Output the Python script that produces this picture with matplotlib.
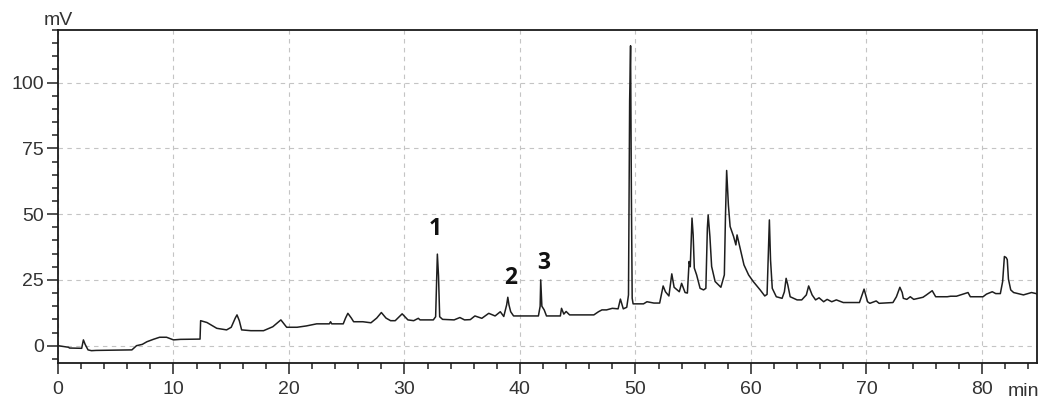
import matplotlib
matplotlib.use("Agg")
import matplotlib.pyplot as plt
from matplotlib.ticker import MultipleLocator

# Chromatogram trace (time in min, signal in mV)
time_min = [
    0.0, 0.9, 1.0, 2.05, 2.2, 2.35, 2.6, 2.9, 3.3, 6.4, 6.8, 7.3, 7.7, 8.25, 8.8, 9.4, 9.7,
    10.0, 10.6, 12.3, 12.35, 12.9, 13.75, 14.6, 15.0, 15.35, 15.5, 15.7, 15.9, 16.7, 17.8,
    18.6, 19.3, 19.8, 20.7, 21.5, 22.4, 23.3, 23.5, 23.6, 23.7, 24.7, 24.9, 25.1, 25.4,
    25.6, 26.4, 27.1, 27.6, 28.0, 28.4, 28.8, 29.2, 29.8, 30.3, 30.8, 31.2, 31.35, 32.5,
    32.7, 32.8, 32.85, 32.95, 33.05, 33.3, 34.3, 34.8, 35.2, 35.7, 36.1, 36.7, 37.3, 37.85,
    38.3, 38.6, 38.85, 38.95, 39.05, 39.2, 39.45, 41.6, 41.75, 41.8, 41.9, 42.1, 42.3,
    43.5, 43.6, 43.8, 44.0, 44.3, 46.4, 46.8, 47.1, 47.5, 48.0, 48.5, 48.7, 48.95, 49.25,
    49.4, 49.5, 49.58, 49.65, 49.72, 49.8, 50.7, 51.0, 51.6, 52.1, 52.4, 52.6, 52.9,
    53.15, 53.35, 53.8, 54.0, 54.3, 54.5, 54.65, 54.75, 54.9, 55.0, 55.1, 55.3, 55.6,
    55.9, 56.1, 56.23, 56.3, 56.45, 56.6, 56.9, 57.2, 57.4, 57.7, 57.8, 57.9, 58.05,
    58.2, 58.5, 58.7, 58.8, 59.1, 59.4, 59.8, 60.2, 60.8, 61.2, 61.4, 61.6, 61.7, 61.85,
    62.2, 62.7, 62.9, 63.05, 63.2, 63.4, 64.0, 64.4, 64.8, 65.0, 65.3, 65.6, 65.9, 66.3,
    66.6, 67.0, 67.4, 68.0, 69.4, 69.8, 70.1, 70.3, 70.85, 71.1, 72.3, 72.6, 72.9, 73.1,
    73.2, 73.5, 73.8, 74.1, 74.9, 75.2, 75.7, 76.0, 77.0, 77.3, 77.8, 78.8, 79.0, 80.1,
    80.4, 80.9, 81.2, 81.6, 81.8, 81.95, 82.1, 82.2, 82.3, 82.5, 82.75, 83.6, 84.3, 84.7,
    84.85,
]
signal_mv = [
    0.0, -0.6, -0.9, -1.0, 2.2, 0.5, -1.6, -1.9, -1.8, -1.6, 0.0, 0.5, 1.5, 2.4, 3.2, 3.2, 2.7,
    2.2, 2.4, 2.5, 9.5, 8.8, 6.6, 6.0, 7.0, 10.5, 11.7, 9.5, 6.0, 5.7, 5.7,
    7.2, 9.8, 7.0, 7.0, 7.5, 8.3, 8.3, 8.3, 9.1, 8.3, 8.3, 10.5, 12.3, 10.5,
    9.1, 9.1, 8.7, 10.5, 12.6, 10.5, 9.5, 9.5, 12.1, 9.8, 9.5, 10.4, 9.8, 9.8,
    11.0, 26.5, 34.8, 26.5, 11.0, 10.0, 9.8, 10.7, 9.8, 9.9, 11.3, 10.4, 12.3, 11.3,
    12.9, 11.1, 15.5, 18.4, 15.5, 12.9, 11.3, 11.3, 15.0, 25.0, 15.0, 13.6, 11.3,
    11.3, 14.2, 12.0, 13.0, 11.7, 11.7, 12.9, 13.6, 13.6, 14.2, 14.0, 17.7, 14.0, 14.6,
    19.3, 93.0, 114.0, 58.0, 18.0, 15.9, 15.9, 16.7, 16.2, 16.2, 22.7, 20.5, 18.9,
    27.3, 22.2, 20.5, 23.7, 20.2, 20.0, 32.0, 30.0, 48.5, 42.1, 29.5, 26.9, 21.8,
    21.2, 21.8, 44.7, 49.7, 41.5, 30.1, 24.4, 23.1, 22.2, 26.9, 49.7, 66.6, 53.5,
    45.3, 41.5, 38.3, 42.1, 36.4, 30.7, 26.9, 24.4, 21.2, 18.9, 19.5, 47.8, 32.6, 21.8,
    18.6, 18.0, 20.5, 25.6, 23.0, 18.6, 17.4, 17.4, 19.3, 22.7, 19.3, 17.4, 18.2, 16.7,
    17.6, 16.7, 17.4, 16.4, 16.4, 21.5, 16.7, 16.1, 17.0, 16.1, 16.4, 18.6, 22.2, 20.2,
    18.0, 17.6, 18.6, 17.6, 18.4, 19.3, 20.9, 18.6, 18.6, 18.8, 18.8, 20.2, 18.6, 18.6,
    19.6, 20.5, 19.8, 19.8, 24.4, 33.9, 33.5, 32.7, 25.3, 21.2, 20.2, 19.3, 20.2, 19.8,
    19.3,
]

# Peak annotations
peak_labels = ["1", "2", "3"]
peak_label_t = [32.65, 39.2, 42.1]
peak_label_v = [44.4, 25.6, 31.6]

x_ticks = [0, 10, 20, 30, 40, 50, 60, 70, 80]
y_ticks = [0, 25, 50, 75, 100]

fig = plt.figure(figsize=(10.54, 4.07), dpi=100)
ax = fig.add_axes([58 / 1054, 1 - 363.3 / 407, (1037.3 - 58) / 1054, (363.3 - 30) / 407])

ax.plot(time_min, signal_mv, color="#1e1e1e", linewidth=1.1, zorder=3)

ax.set_xlim(0, 84.8)
ax.set_ylim(-6.7, 120)
ax.set_xticks(x_ticks)
ax.set_yticks(y_ticks)
ax.xaxis.set_minor_locator(MultipleLocator(2))
ax.yaxis.set_minor_locator(MultipleLocator(5))

ax.grid(True, which="major", linestyle=(0, (4, 4)), color="#c4c4c4", linewidth=0.8, zorder=0)

for s in ax.spines.values():
    s.set_linewidth(1.3)
    s.set_color("#1a1a1a")

ax.tick_params(axis="both", which="major", direction="out", length=8, width=1.1,
               labelsize=14, colors="#222222", labelcolor="#333333")
ax.tick_params(axis="both", which="minor", direction="out", length=4.5, width=1.1,
               colors="#222222")
for lbl in ax.get_xticklabels() + ax.get_yticklabels():
    lbl.set_fontfamily("Liberation Sans")
ax.tick_params(axis="x", pad=5)
ax.tick_params(axis="y", pad=2)

ax.text(0, 1.003, "mV", transform=ax.transAxes, ha="center", va="bottom",
        fontsize=14, family="Liberation Sans", color="#333333")
fig.text(1023.5 / 1054, 1 - 391 / 407, "min", ha="center", va="center",
         fontsize=14, family="Liberation Sans", color="#333333")

for lab, t, v in zip(peak_labels, peak_label_t, peak_label_v):
    ax.text(t, v, lab, ha="center", va="center", fontsize=16.5, fontweight="bold",
            family="Open Sans", color="#111111")

fig.savefig("out.png", dpi=100)
